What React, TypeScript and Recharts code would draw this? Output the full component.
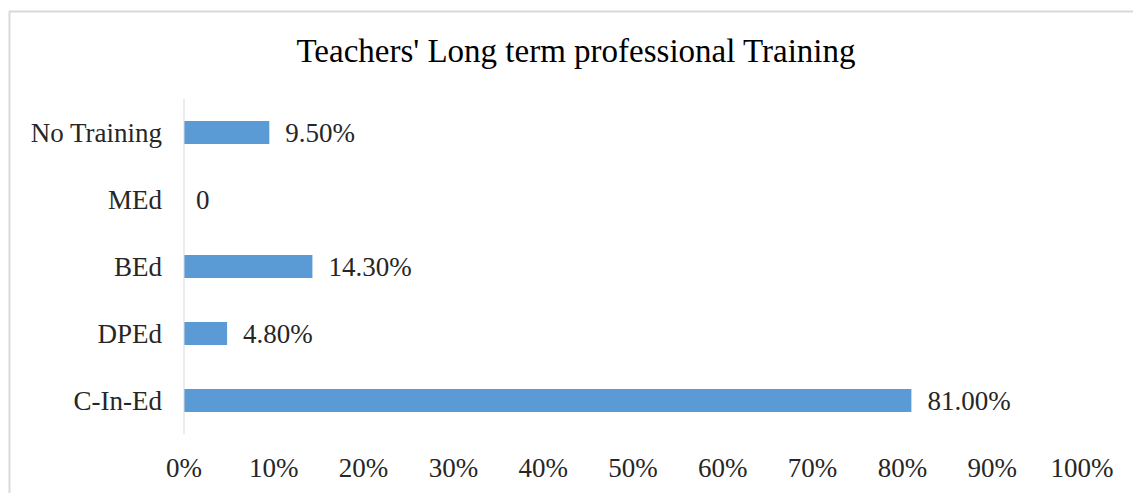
import React from "react";
import { BarChart, Bar, XAxis, YAxis } from "recharts";

const categories = ["No Training", "MEd", "BEd", "DPEd", "C-In-Ed"];
const values = [9.5, 0, 14.3, 4.8, 81.0];
const xTicks = [0, 10, 20, 30, 40, 50, 60, 70, 80, 90, 100];
const title = "Teachers' Long term professional Training";

const data = categories.map((name, i) => ({ name, value: values[i] }));

const FONT = '"Liberation Serif", "Times New Roman", serif';
const TEXT = "#262626";

const fmtLabel = (v: any) => (Number(v) === 0 ? "0" : `${Number(v).toFixed(2)}%`);

const BarWithLabel = (props: any) => {
  const { x, y, width, height, value, fill } = props;
  const v = Array.isArray(value) ? value[1] - value[0] : value;
  const w = Math.max(0, Number(width) || 0);
  return (
    <g>
      {w > 0 && <rect x={x} y={y} width={w} height={height} fill={fill} />}
      <text
        x={x + w + (w > 0 ? 16 : 12)}
        y={y + height / 2}
        dy="0.355em"
        textAnchor="start"
        fontFamily={FONT}
        fontSize={27}
        fill={TEXT}
      >
        {fmtLabel(v)}
      </text>
    </g>
  );
};

export default function App() {
  return (
    <div style={{ position: "absolute", left: 0, top: 0, width: 1133, height: 493, background: "#fff", overflow: "hidden" }}>
      <div style={{ position: "absolute", left: 0, top: 0 }}>
        <BarChart
          width={1133}
          height={493}
          data={data}
          layout="vertical"
          margin={{ top: 99, right: 51, bottom: 0, left: 14 }}
          barCategoryGap={22}
        >
          <XAxis
            type="number"
            domain={[0, 100]}
            ticks={xTicks}
            tickFormatter={(v: number) => `${v}%`}
            axisLine={false}
            tickLine={false}
            height={59}
            tickMargin={18}
            interval={0}
            tick={{ fill: TEXT, fontSize: 27, fontFamily: FONT }}
          />
          <YAxis
            type="category"
            dataKey="name"
            width={170}
            axisLine={{ stroke: "#d9d9d9", strokeWidth: 1 }}
            tickLine={false}
            tickMargin={16}
            interval={0}
            tick={{ fill: TEXT, fontSize: 27, fontFamily: FONT }}
          />
          <Bar dataKey="value" fill="#5B9BD5" barSize={23} isAnimationActive={false} shape={BarWithLabel} />
        </BarChart>
      </div>
      <svg width={1133} height={493} style={{ position: "absolute", left: 0, top: 0, pointerEvents: "none" }}>
        <line x1={9.5} y1={11} x2={9.5} y2={493} stroke="#d9d9d9" strokeWidth={2} />
        <line x1={9} y1={11.5} x2={1133} y2={11.5} stroke="#d9d9d9" strokeWidth={2} />
        <text x={576} y={62} textAnchor="middle" fontFamily={FONT} fontSize={33} fill="#000">
          {title}
        </text>
      </svg>
    </div>
  );
}
